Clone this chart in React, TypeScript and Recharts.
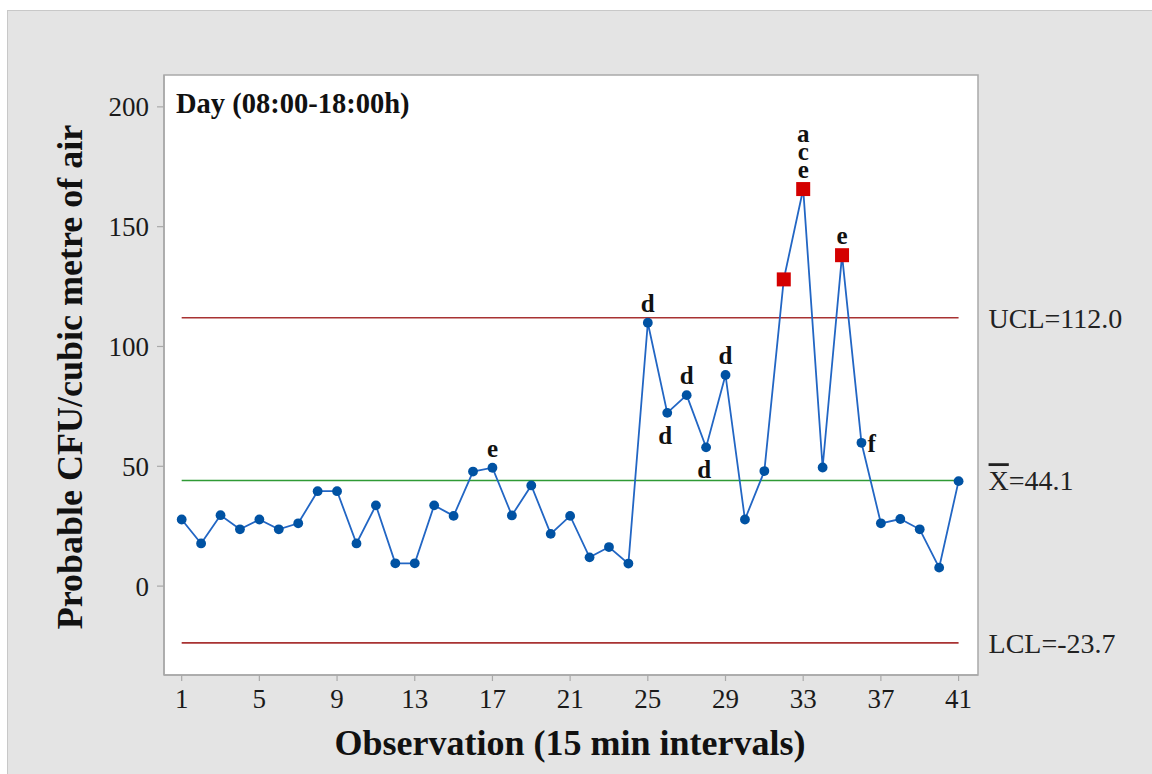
import React from 'react';
import { LineChart, Line, XAxis, YAxis, ReferenceLine, ReferenceArea } from 'recharts';

// ---- data ----
const observations = [
  1, 2, 3, 4, 5, 6, 7, 8, 9, 10, 11, 12, 13, 14, 15, 16, 17, 18, 19, 20, 21,
  22, 23, 24, 25, 26, 27, 28, 29, 30, 31, 32, 33, 34, 35, 36, 37, 38, 39, 40, 41,
];
const cfuValues = [
  27.8, 17.8, 29.6, 23.7, 27.8, 23.7, 26.2, 39.6, 39.6, 17.8,
  33.7, 9.5, 9.5, 33.7, 29.3, 47.8, 49.4, 29.5, 42.0, 21.8,
  29.3, 12.0, 16.3, 9.4, 109.9, 72.3, 79.7, 57.9, 88.1, 27.8,
  48.0, 128.0, 165.7, 49.5, 138.1, 59.8, 26.2, 28.0, 23.7, 7.7, 43.8,
];
const xTicks = [1, 5, 9, 13, 17, 21, 25, 29, 33, 37, 41];
const yTicks = [0, 50, 100, 150, 200];
const UCL = 112.0;
const CENTER = 44.1;
const LCL = -23.7;
const outOfControlObs = [32, 33, 35];
const annotatedObs = [17, 25, 26, 27, 28, 29, 33, 35, 36];
const annotationLetters = ['e', 'd', 'd', 'd', 'd', 'd', 'ace', 'e', 'f'];
const annotationPlacement = ['above', 'above', 'below', 'above', 'below', 'above', 'above', 'above', 'right'];

// ---- layout / style ----
const X_MIN = 0.09;
const X_MAX = 42.0;
const Y_MIN = -37.1;
const Y_MAX = 213.3;
const SERIF = "'Times New Roman', 'Liberation Serif', serif";
const AXIS_GRAY = '#a9a9a9';
const LINE_BLUE = '#2266c4';
const DOT_BLUE = '#0052a3';
const FLAG_RED = '#d40000';
const LIMIT_RED = '#a83232';
const CENTER_GREEN = '#2f9a35';

const data = observations.map((obs, i) => ({ obs, cfu: cfuValues[i] }));

const renderDot = (props: any) => {
  const { cx, cy, payload, index } = props;
  if (cx == null || cy == null) return <g key={`d${index}`} />;
  const obs = payload.obs;
  const flagged = outOfControlObs.includes(obs);
  const ai = annotatedObs.indexOf(obs);
  let labels: React.ReactNode = null;
  if (ai >= 0) {
    const letters = annotationLetters[ai].split('');
    const place = annotationPlacement[ai];
    const common = {
      fontFamily: SERIF,
      fontWeight: 700,
      fontSize: 25,
      fill: '#111',
    } as any;
    if (place === 'above') {
      const topY = cy - 11 - (letters.length - 1) * 18;
      labels = (
        <text x={cx} y={topY} textAnchor="middle" {...common}>
          {letters.map((ch, k) => (
            <tspan key={k} x={cx} dy={k === 0 ? 0 : 18}>
              {ch}
            </tspan>
          ))}
        </text>
      );
    } else if (place === 'below') {
      labels = (
        <text x={cx - 2} y={cy + 31} textAnchor="middle" {...common}>
          {letters.join('')}
        </text>
      );
    } else {
      labels = (
        <text x={cx + 6} y={cy + 9} textAnchor="start" {...common}>
          {letters.join('')}
        </text>
      );
    }
  }
  return (
    <g key={`d${index}`}>
      {flagged ? (
        <rect x={cx - 7} y={cy - 7} width={14} height={14} fill={FLAG_RED} />
      ) : (
        <circle cx={cx} cy={cy} r={4.9} fill={DOT_BLUE} />
      )}
      {labels}
    </g>
  );
};

const makeLimitLabel = (kind: 'ucl' | 'center' | 'lcl', valueText: string) => (props: any) => {
  const vb = props.viewBox || {};
  const x = (vb.x ?? 0) + (vb.width ?? 0) + 30;
  const y = vb.y ?? 0;
  return (
    <text x={x} y={y} dy="0.35em" fontFamily={SERIF} fontSize={28} fill="#222" textAnchor="start">
      {kind === 'center' ? (
        <>
          <tspan style={{ textDecoration: 'overline' }}>X</tspan>
          <tspan>{valueText}</tspan>
        </>
      ) : (
        valueText
      )}
    </text>
  );
};

export default function App() {
  return (
    <div style={{ position: 'absolute', left: 0, top: 0, width: 1152, height: 774, background: '#ffffff', overflow: 'hidden' }}>
      <div
        style={{
          position: 'absolute',
          left: 7,
          top: 10,
          width: 1170,
          height: 790,
          background: '#e4e4e4',
          border: '1px solid #c8c8c8',
          boxSizing: 'border-box',
        }}
      />
      <div style={{ position: 'absolute', left: 0, top: 0 }}>
        <LineChart width={1152} height={774} data={data} margin={{ top: 75, right: 174, bottom: 39, left: 84 }}>
          <ReferenceArea
            x1={X_MIN}
            x2={X_MAX}
            y1={Y_MIN}
            y2={Y_MAX}
            fill="#ffffff"
            fillOpacity={1}
            stroke={AXIS_GRAY}
            strokeWidth={1.5}
            ifOverflow="visible"
          />
          <XAxis
            type="number"
            dataKey="obs"
            domain={[X_MIN, X_MAX]}
            ticks={xTicks}
            interval={0}
            allowDataOverflow
            height={60}
            tickSize={6}
            tickMargin={8}
            axisLine={{ stroke: AXIS_GRAY, strokeWidth: 1.5 }}
            tickLine={{ stroke: AXIS_GRAY, strokeWidth: 1.2 }}
            tick={{ fill: '#1a1a1a', fontSize: 27, fontFamily: SERIF }}
          />
          <YAxis
            type="number"
            domain={[Y_MIN, Y_MAX]}
            ticks={yTicks}
            interval={0}
            allowDataOverflow
            width={80}
            tickSize={7}
            tickMargin={8}
            axisLine={{ stroke: AXIS_GRAY, strokeWidth: 1.5 }}
            tickLine={{ stroke: AXIS_GRAY, strokeWidth: 1.2 }}
            tick={{ fill: '#1a1a1a', fontSize: 27, fontFamily: SERIF }}
          />
          <ReferenceLine
            segment={[{ x: observations[0], y: UCL }, { x: observations[observations.length - 1], y: UCL }]}
            stroke={LIMIT_RED}
            strokeWidth={1.6}
            label={makeLimitLabel('ucl', `UCL=${UCL.toFixed(1)}`)}
          />
          <ReferenceLine
            segment={[{ x: observations[0], y: CENTER }, { x: observations[observations.length - 1], y: CENTER }]}
            stroke={CENTER_GREEN}
            strokeWidth={1.6}
            label={makeLimitLabel('center', `=${CENTER.toFixed(1)}`)}
          />
          <ReferenceLine
            segment={[{ x: observations[0], y: LCL }, { x: observations[observations.length - 1], y: LCL }]}
            stroke={LIMIT_RED}
            strokeWidth={1.6}
            label={makeLimitLabel('lcl', `LCL=${LCL.toFixed(1)}`)}
          />
          <Line
            type="linear"
            dataKey="cfu"
            stroke={LINE_BLUE}
            strokeWidth={1.8}
            dot={renderDot}
            activeDot={false}
            isAnimationActive={false}
          />
        </LineChart>
      </div>
      <svg width={1152} height={774} style={{ position: 'absolute', left: 0, top: 0, pointerEvents: 'none' }}>
        <text x={176} y={113} fontFamily={SERIF} fontWeight={700} fontSize={28.5} fill="#111">
          Day (08:00-18:00h)
        </text>
        <text x={570} y={755} textAnchor="middle" fontFamily={SERIF} fontWeight={700} fontSize={36} fill="#111">
          Observation (15 min intervals)
        </text>
        <text
          x={82}
          y={377}
          transform="rotate(-90, 82, 377)"
          textAnchor="middle"
          fontFamily={SERIF}
          fontWeight={700}
          fontSize={36}
          fill="#111"
        >
          Probable CFU/cubic metre of air
        </text>
      </svg>
    </div>
  );
}
